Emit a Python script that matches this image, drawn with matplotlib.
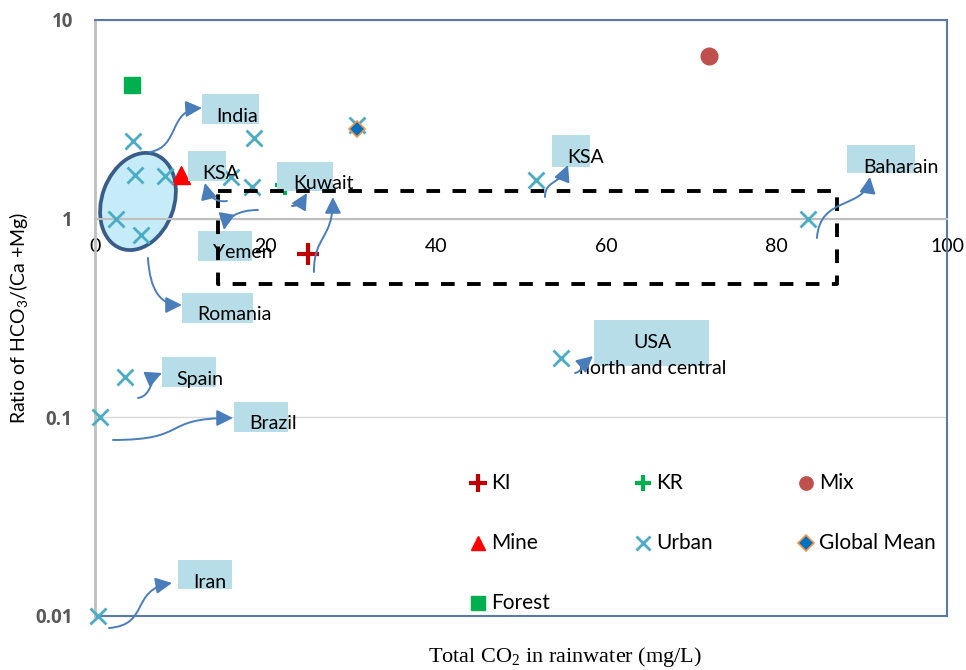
import matplotlib
matplotlib.use("Agg")
import matplotlib.pyplot as plt
from matplotlib import transforms
from matplotlib.patches import Ellipse, Rectangle, FancyArrowPatch
from matplotlib.path import Path
from matplotlib.ticker import NullLocator

plt.rcParams['font.family'] = ['Lato', 'DejaVu Sans']

# Total CO2 in rainwater (mg/L) vs HCO3/(Ca+Mg) ratio, by site type
urban_x = [4.5, 4.7, 8.2, 2.5, 5.4, 16.0, 18.7, 18.4, 30.8, 51.8, 83.7, 54.7, 3.5, 0.6, 0.35]
urban_y = [2.45, 1.66, 1.63, 1.0, 0.83, 1.62, 2.55, 1.45, 2.97, 1.57, 1.0, 0.20, 0.16, 0.10, 0.01]
ki_x, ki_y = [25.0], [0.66]
kr_x, kr_y = [22.3], [1.48]
mix_x, mix_y = [72.1], [6.6]
mine_x, mine_y = [10.1], [1.66]
gm_x, gm_y = [30.8], [2.83]
forest_x, forest_y = [4.3], [4.7]

x_ticks = [0, 20, 40, 60, 80, 100]
y_ticks = [0.01, 0.1, 1, 10]
y_tick_labels = ["0.01", "0.1", "1", "10"]

# highlighted range (dashed box) and the cluster of low-CO2 urban sites
range_x = (14.5, 87.1)
range_y = (0.47, 1.38)
cluster_center = (5.05, 1.22)

label_text = ["India", "KSA", "Kuwait", "Yemen", "Romania", "KSA", "Baharain",
              "USA\nnorth and central", "Spain", "Brazil", "Iran"]

# callout boxes in axes fraction: left, bottom, width, height
label_boxes = [
    (0.1256, 0.8255, 0.0669, 0.0503),
    (0.1092, 0.7299, 0.0446, 0.0503),
    (0.2136, 0.7131, 0.0657, 0.0487),
    (0.1209, 0.5956, 0.0634, 0.0503),
    (0.1021, 0.4916, 0.0833, 0.0503),
    (0.5364, 0.7534, 0.0446, 0.0537),
    (0.8826, 0.7433, 0.0798, 0.0470),
    (0.5857, 0.4195, 0.1350, 0.0772),
    (0.0786, 0.3842, 0.0634, 0.0503),
    (0.1631, 0.3087, 0.0634, 0.0503),
    (0.0974, 0.0453, 0.0634, 0.0487),
]
# text anchor: x, first baseline, alignment
label_anchor = [
    (0.1420, 0.8289, "left"),
    (0.1256, 0.7332, "left"),
    (0.2324, 0.7164, "left"),
    (0.1385, 0.6007, "left"),
    (0.1197, 0.4966, "left"),
    (0.5540, 0.7601, "left"),
    (0.9014, 0.7433, "left"),
    (0.6549, 0.4497, "center"),
    (0.0951, 0.3876, "left"),
    (0.1808, 0.3138, "left"),
    (0.1150, 0.0470, "left"),
]

# curved callout arrows, cubic bezier control points in axes fraction
callout_arrows = [
    [(0.0646, 0.7785), (0.0998, 0.7869), (0.0857, 0.8490), (0.1256, 0.8523)],
    [(0.1549, 0.6963), (0.1408, 0.6930), (0.1326, 0.7064), (0.1291, 0.7265)],
    [(0.1913, 0.6812), (0.1678, 0.6812), (0.1538, 0.6678), (0.1514, 0.6477)],
    [(0.2312, 0.6879), (0.2406, 0.6879), (0.2441, 0.6980), (0.2488, 0.7097)],
    [(0.2570, 0.5772), (0.2570, 0.6393), (0.2793, 0.6309), (0.2793, 0.7030)],
    [(0.0622, 0.6007), (0.0646, 0.5470), (0.0763, 0.5218), (0.1021, 0.5218)],
    [(0.5282, 0.7030), (0.5282, 0.7315), (0.5458, 0.7232), (0.5552, 0.7567)],
    [(0.8474, 0.6342), (0.8509, 0.7064), (0.9038, 0.6812), (0.9096, 0.7366)],
    [(0.5634, 0.4077), (0.5716, 0.4094), (0.5763, 0.4262), (0.5845, 0.4362)],
    [(0.0505, 0.3658), (0.0669, 0.3691), (0.0646, 0.3993), (0.0786, 0.4077)],
    [(0.0211, 0.2953), (0.1120, 0.2953), (0.0763, 0.3322), (0.1620, 0.3322)],
    [(0.0164, -0.0201), (0.0646, -0.0151), (0.0411, 0.0436), (0.0904, 0.0554)],
]

series = [
    ("KI", ki_x, ki_y, dict(marker="+", color="#c00000", ms=16, mew=3)),
    ("KR", kr_x, kr_y, dict(marker="+", color="#00b050", ms=14, mew=3)),
    ("Mix", mix_x, mix_y, dict(marker="o", color="#c0504d", ms=12)),
    ("Mine", mine_x, mine_y, dict(marker="^", color="#ff0000", ms=13)),
    ("Urban", urban_x, urban_y, dict(marker="x", color="#4bacc6", ms=12, mew=2)),
    ("Global Mean", gm_x, gm_y, dict(marker="D", mfc="#0070c0", mec="#f79646", ms=8, mew=1.2)),
    ("Forest", forest_x, forest_y, dict(marker="s", color="#00b050", ms=12)),
]

frame_color = "#5a7aa6"
axis_gray = "#bfbfbf"
box_color = "#b7dee8"
arrow_color = "#4a7ebb"

fig = plt.figure(figsize=(9.66, 6.70), dpi=100)
ax = fig.add_axes([0.0983, 0.0806, 0.8820, 0.8896])
ax.set_yscale("log")
ax.set_xlim(0, 100)
ax.set_ylim(0.01, 10)

# x axis crosses at ratio = 1, plot area framed separately
ax.spines["bottom"].set_position(("data", 1))
ax.spines["bottom"].set_color(axis_gray)
ax.spines["bottom"].set_linewidth(1.5)
ax.spines["left"].set_color(axis_gray)
ax.spines["left"].set_linewidth(2)
for side in ("top", "right"):
    ax.spines[side].set_color(frame_color)
    ax.spines[side].set_linewidth(1.5)
ax.plot([0, 1], [0, 0], color=frame_color, lw=1.5, transform=ax.transAxes, clip_on=False, zorder=2)

ax.set_yticks(y_ticks)
ax.set_yticklabels(y_tick_labels, fontweight="bold", color="#595959",
                   family=["Open Sans", "DejaVu Sans"])
ax.yaxis.set_minor_locator(NullLocator())
ax.set_xticks(x_ticks)
ax.tick_params(axis="x", length=0, pad=14, labelsize=14)
ax.tick_params(axis="y", length=0, pad=16, labelsize=13.5)
ax.grid(axis="y", color="#d9d9d9", lw=1)
ax.set_axisbelow(True)

# cluster ellipse, fixed size in inches around a data point
ell_trans = fig.dpi_scale_trans + transforms.ScaledTranslation(
    cluster_center[0], cluster_center[1], ax.transData)
ax.add_patch(Ellipse((0, 0), 0.72, 1.0, angle=-20, transform=ell_trans,
                     facecolor="#c6ebf9", edgecolor="#385d8a", lw=2.7, zorder=1.5))

for name, xs, ys, style in series:
    ax.plot(xs, ys, ls="none", clip_on=False, zorder=3, **style)

for (bx, by, bw, bh) in label_boxes:
    ax.add_patch(Rectangle((bx, by), bw, bh, transform=ax.transAxes,
                           facecolor=box_color, edgecolor="none", zorder=4, clip_on=False))

ax.plot([range_x[0], range_x[1], range_x[1], range_x[0], range_x[0]],
        [range_y[1], range_y[1], range_y[0], range_y[0], range_y[1]],
        color="black", lw=2.8, dashes=(3.5, 3.2), zorder=5)

for text, (tx, ty, ha) in zip(label_text, label_anchor):
    for i, line in enumerate(text.split("\n")):
        ax.text(tx, ty - i * 0.0436, line, transform=ax.transAxes, ha=ha,
                va="baseline", fontsize=14, color="black", zorder=6)

codes = [Path.MOVETO, Path.CURVE4, Path.CURVE4, Path.CURVE4]
for pts in callout_arrows:
    arrow = FancyArrowPatch(path=Path(pts, codes), transform=ax.transAxes,
                            arrowstyle="-|>,head_length=0.7,head_width=0.35",
                            mutation_scale=14, color=arrow_color, lw=1.4,
                            clip_on=False, zorder=6)
    ax.add_patch(arrow)

# legend laid out in rows of three
leg_cols = [0.4495, 0.6432, 0.8345]
leg_rows = [0.2232, 0.1225, 0.0218]
for k, (name, xs, ys, style) in enumerate(series):
    cx = leg_cols[k % 3]
    cy = leg_rows[k // 3]
    lstyle = dict(style)
    if lstyle["marker"] != "D":
        lstyle["ms"] = style["ms"] * 0.8
    ax.plot([cx], [cy], ls="none", transform=ax.transAxes, clip_on=False, zorder=6, **lstyle)
    ax.text(cx + 0.0153, cy, name, transform=ax.transAxes, ha="left", va="center",
            fontsize=15, zorder=6)

fig.text(0.019, 0.5254, r"Ratio of HCO$\mathregular{_3}$/(Ca +Mg)", rotation=90,
         ha="center", va="center", fontsize=14)
fig.text(0.5849, 0.0190, r"Total CO$\mathregular{_2}$ in rainwater (mg/L)",
         family="Liberation Serif", ha="center", va="center", fontsize=16)

fig.savefig("out.png", dpi=100)
